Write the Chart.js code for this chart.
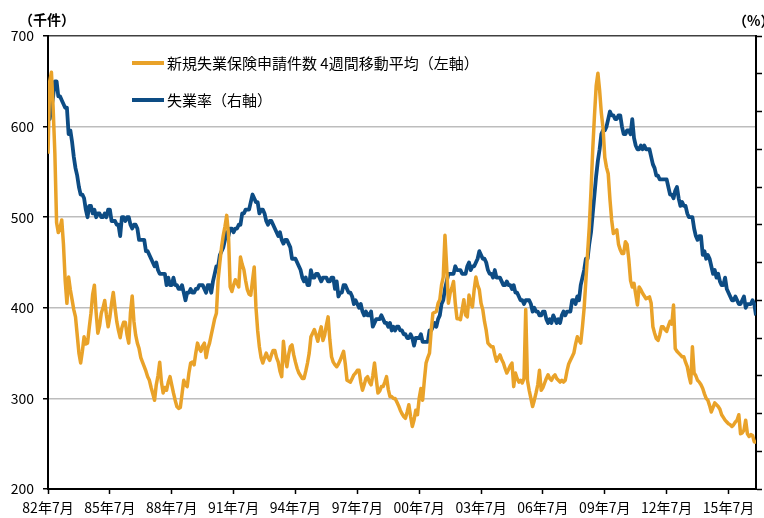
<!DOCTYPE html>
<html>
<head>
<meta charset="utf-8">
<script src="https://cdn.jsdelivr.net/npm/chart.js@4.4.0/dist/chart.umd.min.js"></script>
<style>
    body { margin: 0; background: #fff; }
    #wrap { width: 764px; height: 518px; }
</style>
</head>
<body>
<div id="wrap"><canvas id="myChart" width="764" height="518"></canvas></div>
<script>
// monthly, Jul 1982 .. Nov 2016 (index 0 = 82年7月)
var xTickLabels = ['82年7月', '85年7月', '88年7月', '91年7月', '94年7月', '97年7月',
    '00年7月', '03年7月', '06年7月', '09年7月', '12年7月', '15年7月'];
var tickEvery = 36;
var lastIndex = 412;

// 新規失業保険申請件数 4週間移動平均 (千件), rows = Jul..Jun
var claimsK = [
    570, 650, 660, 620, 570, 494, 483, 488, 497, 470, 430, 405,
    434, 420, 409, 398, 390, 370, 350, 339, 352, 368, 360, 361,
    378, 394, 415, 425, 395, 372, 380, 394, 400, 408, 392, 379,
    390, 405, 417, 400, 385, 375, 367, 378, 384, 384, 370, 361,
    395, 413, 385, 370, 361, 355, 345, 340, 335, 330, 324, 320,
    312, 305, 298, 315, 325, 340, 318, 306, 312, 309, 318, 324,
    315, 306, 298, 291, 289, 290, 305, 320, 315, 313, 328, 339,
    340, 337, 350, 361, 355, 352, 358, 361, 345, 355, 361, 370,
    379, 388, 394, 431, 450, 467, 480, 490, 502, 482, 423, 418,
    425, 431, 427, 423, 456, 448, 442, 430, 420, 415, 414, 430,
    445, 401, 375, 357, 345, 339, 345, 350, 345, 342, 348, 353,
    353, 345, 340, 330, 324, 363, 345, 335, 348, 357, 359, 348,
    340, 333, 328, 325, 322, 322, 330, 339, 350, 368, 372, 376,
    370, 363, 372, 379, 364, 370, 381, 390, 365, 346, 340, 337,
    335, 338, 342, 347, 352, 338, 320, 319, 318, 322, 326, 328,
    331, 331, 318, 309, 315, 322, 324, 318, 315, 325, 339, 322,
    306, 308, 313, 313, 318, 324, 310, 302, 302, 300, 300, 296,
    292, 287, 283, 280, 278, 285, 293, 280, 269, 276, 287, 282,
    300, 311, 298, 320, 339, 345, 350, 375, 394, 395, 396, 405,
    409, 425, 434, 480, 445, 405, 416, 422, 429, 405, 388, 388,
    387, 398, 409, 392, 390, 414, 405, 401, 420, 434, 425, 420,
    405, 398, 385, 375, 361, 359, 357, 357, 348, 341, 345, 348,
    343, 339, 333, 328, 332, 336, 339, 313, 328, 322, 318, 320,
    317, 322, 398, 320, 309, 300, 291, 298, 306, 315, 331, 309,
    312, 317, 322, 326, 322, 320, 324, 326, 322, 320, 318, 320,
    318, 320, 330, 338, 342, 346, 350, 360, 368, 364, 361, 379,
    400, 430, 460, 490, 530, 575, 612, 645, 659, 640, 615, 598,
    566, 555, 548, 520, 497, 482, 484, 486, 470, 464, 460, 460,
    473, 470, 453, 430, 423, 427, 415, 403, 423, 420, 416, 413,
    410, 411, 412, 405, 379, 372, 366, 364, 370, 379, 379, 376,
    374, 380, 385, 382, 403, 355, 352, 350, 348, 346, 346, 340,
    335, 325, 317, 357, 328, 325, 320, 318, 315, 311, 305, 300,
    298, 292, 285, 290, 295, 293, 291, 288, 282, 279, 276, 274,
    272, 271, 269, 271, 274, 276, 282, 261, 262, 265, 276, 261,
    258, 260, 259, 252, 252
];

// 失業率 (%), rows = calendar years
var unempRate = [
    9.8, 9.8, 10.1, 10.4, 10.8, 10.8,
    10.4, 10.4, 10.3, 10.2, 10.1, 10.1, 9.4, 9.5, 9.2, 8.8, 8.5, 8.3,
    8.0, 7.8, 7.8, 7.7, 7.4, 7.2, 7.5, 7.5, 7.3, 7.4, 7.2, 7.3,
    7.3, 7.2, 7.2, 7.3, 7.2, 7.4, 7.4, 7.1, 7.1, 7.1, 7.0, 7.0,
    6.7, 7.2, 7.2, 7.1, 7.2, 7.2, 7.0, 6.9, 7.0, 7.0, 6.9, 6.6,
    6.6, 6.6, 6.6, 6.3, 6.3, 6.2, 6.1, 6.0, 5.9, 6.0, 5.8, 5.7,
    5.7, 5.7, 5.7, 5.4, 5.6, 5.4, 5.4, 5.6, 5.4, 5.4, 5.3, 5.3,
    5.4, 5.2, 5.0, 5.2, 5.2, 5.3, 5.2, 5.2, 5.3, 5.3, 5.4, 5.4,
    5.4, 5.3, 5.2, 5.4, 5.4, 5.2, 5.5, 5.7, 5.9, 5.9, 6.2, 6.3,
    6.4, 6.6, 6.8, 6.7, 6.9, 6.9, 6.8, 6.9, 6.9, 7.0, 7.0, 7.3,
    7.3, 7.4, 7.4, 7.4, 7.6, 7.8, 7.7, 7.6, 7.6, 7.3, 7.4, 7.4,
    7.3, 7.1, 7.0, 7.1, 7.1, 7.0, 6.9, 6.8, 6.7, 6.8, 6.6, 6.5,
    6.6, 6.6, 6.5, 6.4, 6.1, 6.1, 6.1, 6.0, 5.9, 5.8, 5.6, 5.5,
    5.6, 5.4, 5.4, 5.8, 5.6, 5.6, 5.7, 5.7, 5.6, 5.5, 5.6, 5.6,
    5.6, 5.5, 5.5, 5.6, 5.6, 5.3, 5.5, 5.1, 5.2, 5.2, 5.4, 5.4,
    5.3, 5.2, 5.2, 5.1, 4.9, 5.0, 4.9, 4.8, 4.9, 4.7, 4.6, 4.7,
    4.6, 4.6, 4.7, 4.3, 4.4, 4.5, 4.5, 4.5, 4.6, 4.5, 4.4, 4.4,
    4.3, 4.4, 4.2, 4.3, 4.2, 4.3, 4.3, 4.2, 4.2, 4.1, 4.1, 4.0,
    4.0, 4.1, 4.0, 3.8, 4.0, 4.0, 4.0, 4.1, 3.9, 3.9, 3.9, 3.9,
    4.2, 4.2, 4.3, 4.4, 4.3, 4.5, 4.6, 4.9, 5.0, 5.3, 5.5, 5.7,
    5.7, 5.7, 5.7, 5.9, 5.8, 5.8, 5.8, 5.7, 5.7, 5.7, 5.9, 6.0,
    5.8, 5.9, 5.9, 6.0, 6.1, 6.3, 6.2, 6.1, 6.1, 6.0, 5.8, 5.7,
    5.7, 5.6, 5.8, 5.6, 5.6, 5.6, 5.5, 5.4, 5.4, 5.5, 5.4, 5.4,
    5.3, 5.4, 5.2, 5.2, 5.1, 5.0, 5.0, 4.9, 5.0, 5.0, 5.0, 4.9,
    4.7, 4.8, 4.7, 4.7, 4.6, 4.6, 4.7, 4.7, 4.5, 4.4, 4.5, 4.4,
    4.6, 4.5, 4.4, 4.5, 4.4, 4.6, 4.7, 4.6, 4.7, 4.7, 4.7, 5.0,
    5.0, 4.9, 5.1, 5.0, 5.4, 5.6, 5.8, 6.1, 6.1, 6.5, 6.8, 7.3,
    7.8, 8.3, 8.7, 9.0, 9.4, 9.5, 9.5, 9.6, 9.8, 10.0, 9.9, 9.9,
    9.8, 9.8, 9.9, 9.9, 9.6, 9.4, 9.4, 9.5, 9.5, 9.4, 9.8, 9.3,
    9.1, 9.0, 9.0, 9.1, 9.0, 9.1, 9.0, 9.0, 9.0, 8.8, 8.6, 8.5,
    8.3, 8.3, 8.2, 8.2, 8.2, 8.2, 8.2, 8.0, 7.8, 7.8, 7.7, 7.9,
    8.0, 7.7, 7.5, 7.6, 7.5, 7.5, 7.3, 7.2, 7.2, 7.2, 6.9, 6.7,
    6.6, 6.7, 6.7, 6.2, 6.3, 6.1, 6.2, 6.1, 5.9, 5.7, 5.8, 5.6,
    5.7, 5.5, 5.4, 5.4, 5.6, 5.3, 5.2, 5.1, 5.0, 5.0, 5.1, 5.0,
    4.9, 4.9, 5.0, 5.1, 4.8, 4.9, 4.9, 4.9, 5.0, 4.9, 4.6
];

var seriesNames = ['新規失業保険申請件数 4週間移動平均（左軸）', '失業率（右軸）'];
var orange = '#E9A229';
var blue = '#0D4C84';
var font = '"Noto Sans CJK JP", "Noto Sans", sans-serif';

function toPoints(arr) {
    return arr.map(function (v, i) {
        return {x: i, y: v};
    });
}

var extras = {
    id: 'extras',
    afterDraw: function (chart) {
        var ctx = chart.ctx;
        ctx.save();
        ctx.fillStyle = '#000';
        ctx.textBaseline = 'middle';
        ctx.textAlign = 'left';
        ctx.font = 'bold 14px ' + font;
        ctx.fillText('（千件）', 19, 20);
        ctx.fillText('（%）', 733, 21);

        // legend inside the plot
        var rows = [{c: orange, y: 63}, {c: blue, y: 100}];
        ctx.font = '15px ' + font;
        rows.forEach(function (r, i) {
            ctx.strokeStyle = r.c;
            ctx.lineWidth = 4;
            ctx.beginPath();
            ctx.moveTo(132, r.y);
            ctx.lineTo(164, r.y);
            ctx.stroke();
            ctx.fillText(seriesNames[i], 167, r.y);
        });
        ctx.restore();
    }
};

new Chart(document.getElementById('myChart').getContext('2d'), {
    type: 'line',
    data: {
        datasets: [
            {
                label: seriesNames[0],
                data: toPoints(claimsK),
                yAxisID: 'y',
                borderColor: orange,
                borderWidth: 3.5,
                pointRadius: 0,
                tension: 0,
                borderJoinStyle: 'round'
            },
            {
                label: seriesNames[1],
                data: toPoints(unempRate),
                yAxisID: 'y1',
                borderColor: blue,
                borderWidth: 3.8,
                pointRadius: 0,
                tension: 0,
                borderJoinStyle: 'round'
            }
        ]
    },
    options: {
        responsive: false,
        animation: false,
        devicePixelRatio: 1,
        layout: {padding: {top: 36, left: 0, right: 0, bottom: 0}},
        plugins: {
            legend: {display: false},
            tooltip: {enabled: false}
        },
        scales: {
            x: {
                type: 'linear',
                min: 0,
                max: lastIndex,
                afterBuildTicks: function (scale) {
                    scale.ticks = xTickLabels.map(function (l, i) {
                        return {value: i * tickEvery};
                    });
                },
                afterFit: function (scale) {
                    scale.height = 29;
                },
                ticks: {
                    autoSkip: false,
                    maxRotation: 0,
                    color: '#000',
                    font: {family: font, size: 14},
                    padding: 5,
                    callback: function (v) {
                        return xTickLabels[Math.round(v / tickEvery)];
                    }
                },
                grid: {drawOnChartArea: false, tickLength: 5, tickColor: '#000', tickWidth: 1.5},
                border: {color: '#000', width: 2}
            },
            y: {
                position: 'left',
                min: 200,
                max: 700,
                afterFit: function (scale) {
                    scale.width = 48;
                },
                ticks: {
                    stepSize: 100,
                    color: '#000',
                    font: {family: font, size: 14},
                    padding: 9
                },
                grid: {
                    color: function (c) {
                        if (c.tick.value === 700) return '#404040';
                        if (c.tick.value === 200) return 'rgba(0,0,0,0)';
                        return '#bdbdbd';
                    },
                    lineWidth: 1.5,
                    tickLength: 5,
                    tickColor: '#000'
                },
                border: {color: '#000', width: 2}
            },
            y1: {
                position: 'right',
                min: 0,
                max: 12,
                afterFit: function (scale) {
                    scale.width = 8;
                },
                ticks: {stepSize: 1, display: false},
                grid: {drawOnChartArea: false, tickLength: 6, tickColor: '#000', tickWidth: 1.5},
                border: {color: '#000', width: 2}
            }
        }
    },
    plugins: [extras]
});
</script>
</body>
</html>
